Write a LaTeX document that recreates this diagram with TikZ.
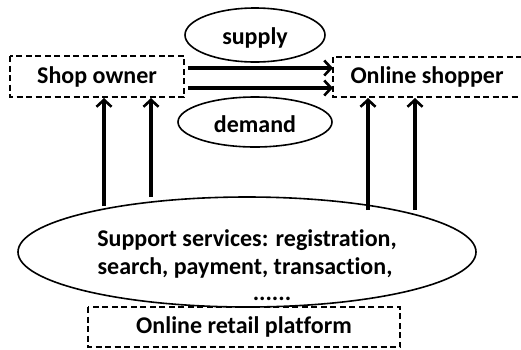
\documentclass[tikz,border=0pt]{standalone}
\usepackage{fontspec}
\setmainfont[Ligatures=NoCommon]{Carlito}
\usetikzlibrary{arrows.meta,shapes.geometric}
\begin{document}
\begin{tikzpicture}[x=1pt,y=-1pt,
  lbl/.style={font=\fontsize{24}{28}\selectfont\bfseries},
  dbox/.style={draw,line width=1.8pt,dash pattern=on 6pt off 3.5pt},
  ell/.style={draw,ellipse,line width=1.6pt},
  arr/.style={line width=3.2pt,-{Straight Barb[length=7pt,width=15pt,line width=2.6pt]}}]
\useasboundingbox (0,0) rectangle (521,349);
% boxes
\draw[dbox] (10,56) rectangle (184,97);
\node[lbl] (shop) at (97,77) {Shop owner};
\draw[dbox] (333,57) rectangle (530,97);
\node[lbl] (online) at (427,77) {Online shopper};
\draw[dbox] (88,307) rectangle (400,347);
\node[lbl] (plat) at (244,327) {Online retail platform};
% ellipses
\draw[ell] (255,35) ellipse [x radius=70, y radius=27];
\node[lbl] (supply) at (255,38) {supply};
\draw[ell] (255,122) ellipse [x radius=77, y radius=25];
\node[lbl] (demand) at (255,124) {demand};
\draw[ell] (247,252) ellipse [x radius=229, y radius=55];
\node[lbl,inner sep=1pt] (s1) at (247,240) {Support services: registration,};
\node[lbl,inner sep=1pt] (s2) at (245,268) {search, payment, transaction,};
\node[lbl,inner sep=0pt,anchor=base] (s3) at (272,300) {......};
% coordinates
\coordinate (a1) at (188,68); \coordinate (b1) at (333,68);
\coordinate (a2) at (188,88); \coordinate (b2) at (333,88);
\coordinate (u1) at (104,206); \coordinate (t1) at (104,98);
\coordinate (u2) at (151,197); \coordinate (t2) at (151,98);
\coordinate (u3) at (368,210); \coordinate (t3) at (368,98);
\coordinate (u4) at (415,210); \coordinate (t4) at (415,98);
\draw[arr] (a1) -- (b1);
\draw[arr] (a2) -- (b2);
\draw[arr] (u1) -- (t1);
\draw[arr] (u2) -- (t2);
\draw[arr] (u3) -- (t3);
\draw[arr] (u4) -- (t4);
\end{tikzpicture}
\end{document}
